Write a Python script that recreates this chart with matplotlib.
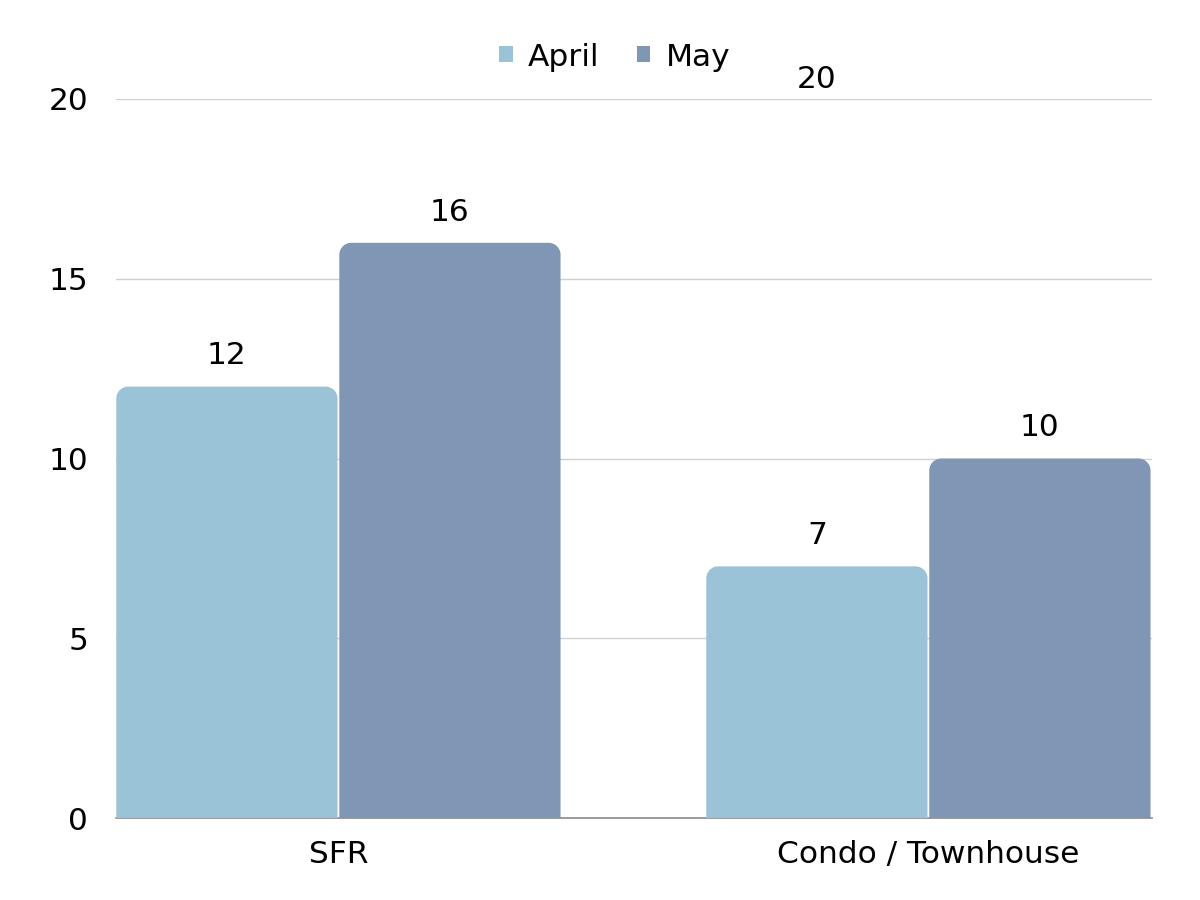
import matplotlib
matplotlib.use("Agg")
import matplotlib.pyplot as plt
from matplotlib.path import Path
from matplotlib.patches import PathPatch, Patch
import numpy as np

plt.rcParams['font.family'] = ['DejaVu Sans']

categories = ["SFR", "Condo / Townhouse"]
series_names = ["April", "May"]
april = [12, 7]
may = [16, 10]
colors = ["#9BC3D8", "#7F97B4"]
yticks = [0, 5, 10, 15, 20]

fig = plt.figure(figsize=(12, 9), dpi=100)
ax = fig.add_axes([116/1200, 1-818/900, (1152-116)/1200, (818-99)/900])
xlim = (-0.377, 1.379)
ylim = (0, 20)
ax.set_xlim(*xlim)
ax.set_ylim(*ylim)

x = np.arange(len(categories))
w = 0.375
offsets = [-0.189, 0.189]

axw_px = (1152-116)
axh_px = (818-99)
r_px = 12
rx = r_px * (xlim[1]-xlim[0]) / axw_px
ry = r_px * (ylim[1]-ylim[0]) / axh_px

def rounded_top_bar(ax, xc, width, h, color):
    x0, x1 = xc - width/2, xc + width/2
    k = 0.5523
    verts = [
        (x0, 0), (x0, h-ry),
        (x0, h-ry + k*ry), (x0 + rx - k*rx, h), (x0+rx, h),
        (x1-rx, h),
        (x1 - rx + k*rx, h), (x1, h-ry + k*ry), (x1, h-ry),
        (x1, 0), (x0, 0)
    ]
    codes = [Path.MOVETO, Path.LINETO,
             Path.CURVE4, Path.CURVE4, Path.CURVE4,
             Path.LINETO,
             Path.CURVE4, Path.CURVE4, Path.CURVE4,
             Path.LINETO, Path.CLOSEPOLY]
    p = PathPatch(Path(verts, codes), facecolor=color, edgecolor='none', zorder=3)
    ax.add_patch(p)

FS = 22.5

for vals, off, col in zip([april, may], offsets, colors):
    for xi, v in zip(x, vals):
        rounded_top_bar(ax, xi+off, w, v, col)
        ax.text(xi+off, v + 0.45, str(v), ha='center', va='bottom', fontsize=FS, color='black', zorder=4)

# stray max label shown above the plot
x_max_label = xlim[0] + (817-116)/axw_px*(xlim[1]-xlim[0])
ax.text(x_max_label, 20.15, "20", ha='center', va='bottom', fontsize=FS, color='black')

ax.set_yticks(yticks)
ax.set_yticklabels([str(t) for t in yticks])
for t in yticks[1:]:
    ax.axhline(t, color='#D0D0D0', lw=1, zorder=1)
ax.axhline(0, color='#8A8A8A', lw=1.2, zorder=2, clip_on=False)
ax.set_xticks(x)
ax.set_xticklabels(categories)
ax.tick_params(axis='both', length=0, labelsize=FS, colors='black')
ax.tick_params(axis='y', pad=20)
ax.tick_params(axis='x', pad=16)
for s in ax.spines.values():
    s.set_visible(False)

handles = [Patch(facecolor=c, edgecolor='none') for c in colors]
fig.legend(handles, series_names, loc='center', bbox_to_anchor=(615/1200, 1-57/900), ncol=2,
           frameon=False, fontsize=FS, handlelength=0.42, handleheight=0.42, handletextpad=0.5, columnspacing=1.2)

fig.savefig("out.png", dpi=100)
